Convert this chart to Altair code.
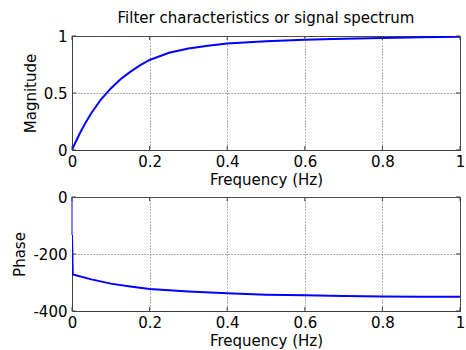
import altair as alt
import pandas as pd

# ---- data ----
mag_freq = [0, 0.01, 0.02, 0.035, 0.05, 0.075, 0.1, 0.125, 0.15, 0.175, 0.2,
            0.25, 0.3, 0.35, 0.4, 0.5, 0.6, 0.7, 0.8, 0.9, 1.0]
magnitude = [0, 0.075, 0.145, 0.24, 0.325, 0.445, 0.54, 0.62, 0.685, 0.742, 0.79,
             0.853, 0.89, 0.915, 0.935, 0.955, 0.967, 0.976, 0.983, 0.99, 0.994]

phase_freq = [0, 0.002, 0.05, 0.1, 0.15, 0.2, 0.3, 0.4, 0.5, 0.6, 0.7, 0.8, 0.9, 1.0]
phase = [-133, -272, -289, -304, -314, -323, -332, -338, -343, -345, -347, -349, -350, -350]

jump_freq = [0, 0]
jump_phase = [0, -133]

x_ticks = [0, 0.2, 0.4, 0.6, 0.8, 1]
mag_ticks = [0, 0.5, 1]
phase_ticks = [-400, -200, 0]

W, H = 388, 114
FONT = "DejaVu Sans"
FS = 15
TICK = 4
BLUE = "#0000ff"
FRAME = "#404040"

mag_df = pd.DataFrame({"f": mag_freq, "v": magnitude})
ph_df = pd.DataFrame({"f": phase_freq, "v": phase})
jump_df = pd.DataFrame({"f": jump_freq, "v": jump_phase})
xt_df = pd.DataFrame({"t": x_ticks})


def panel(df, ydomain, yticks, ytitle, extra=None):
    xs = alt.Scale(domain=[0, 1], nice=False, zero=False)
    ys = alt.Scale(domain=ydomain, nice=False, zero=False)
    xaxis = alt.Axis(values=x_ticks, labelExpr="datum.value + ''", title="Frequency (Hz)",
                     labelPadding=4, titleY=22)
    yaxis = alt.Axis(values=yticks, labelExpr="datum.value + ''", title=ytitle,
                     labelPadding=5, titlePadding=5)
    line = alt.Chart(df).mark_line(color=BLUE, strokeWidth=2, clip=True).encode(
        x=alt.X("f:Q", scale=xs, axis=xaxis),
        y=alt.Y("v:Q", scale=ys, axis=yaxis),
    )
    layers = []
    if extra is not None:
        layers.append(alt.Chart(extra).mark_line(color="#8080ff", strokeWidth=2).encode(
            x=alt.X("f:Q", scale=xs), y=alt.Y("v:Q", scale=ys)))
    layers.append(line)
    # inward ticks on all four sides
    layers.append(alt.Chart(xt_df).mark_rule(color=FRAME).encode(
        x=alt.X("t:Q", scale=xs), y=alt.value(0), y2=alt.value(TICK)))
    layers.append(alt.Chart(xt_df).mark_rule(color=FRAME).encode(
        x=alt.X("t:Q", scale=xs), y=alt.value(H), y2=alt.value(H - TICK)))
    yt_df = pd.DataFrame({"t": yticks})
    layers.append(alt.Chart(yt_df).mark_rule(color=FRAME).encode(
        y=alt.Y("t:Q", scale=ys), x=alt.value(0), x2=alt.value(TICK)))
    layers.append(alt.Chart(yt_df).mark_rule(color=FRAME).encode(
        y=alt.Y("t:Q", scale=ys), x=alt.value(W), x2=alt.value(W - TICK)))
    return alt.layer(*layers).properties(width=W, height=H)


top = panel(mag_df, [0, 1], mag_ticks, "Magnitude").properties(
    title=alt.TitleParams("Filter characteristics or signal spectrum", font=FONT,
                          fontSize=FS, fontWeight="normal", color="black", offset=3))
bottom = panel(ph_df, [-400, 0], phase_ticks, "Phase", extra=jump_df)

chart = alt.vconcat(top, bottom, spacing=1).properties(
    padding={"left": 12, "top": 10, "right": 0, "bottom": 0},
    background="white",
).configure_axis(
    labelFont=FONT, titleFont=FONT, labelFontSize=FS, titleFontSize=FS,
    titleFontWeight="normal", labelColor="black", titleColor="black",
    domainColor=FRAME, tickSize=0, gridColor="#606060", gridDash=[1, 2],
    gridOpacity=1, gridWidth=1, labelFlush=False,
).configure_view(stroke=FRAME, strokeWidth=1)

chart.save("out.html", embed_options={"renderer": "svg", "actions": False})
